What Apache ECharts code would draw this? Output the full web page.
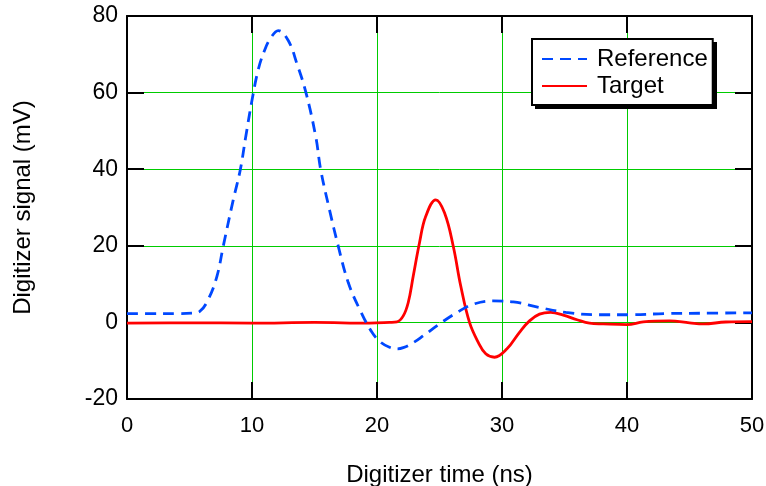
<!DOCTYPE html>
<html>
	<head>
		<meta charset="utf-8">
		<script type="text/javascript" src="https://cdn.jsdelivr.net/npm/echarts@6/dist/echarts.min.js"></script>
	</head>
	<body style="margin:0;background:#fff;">
		<div id="main" style="width:766px;height:486px;"></div>

		<script type="text/javascript">
			// 数据
			var refTime   = [0, 2, 4, 5.2, 5.8, 6.5, 7.2, 7.7, 8.5, 9.06, 9.5, 10, 10.5, 11, 11.5, 12.1, 12.9, 13.6, 14.3, 15.1, 15.5, 16.2, 16.9, 17.7, 18.6, 19.6, 20.3, 21.0, 21.6, 22.1, 22.9, 23.7, 25.0, 26.4, 27.7, 29.3, 30.9, 33.0, 35.1, 37.8, 40.2, 43, 46, 50];
			var refSignal = [2.3, 2.3, 2.3, 2.4, 2.8, 6, 12.1, 19.9, 32, 39.8, 48.5, 58, 66, 71, 74.3, 76.2, 73.6, 67.5, 60.2, 48.5, 39.8, 29.4, 19.9, 10.4, 3.5, -2.6, -5.2, -6.5, -6.9, -6.6, -5.3, -3.5, -0.4, 2.6, 4.75, 5.6, 5.35, 3.9, 2.6, 2.0, 2.0, 2.3, 2.4, 2.5];

			var tgtTime   = [0, 5, 10, 15, 19.4, 21, 21.6, 22.1, 22.5, 22.9, 23.4, 23.9, 24.7, 25.4, 26.1, 26.7, 27.4, 28.1, 28.7, 29.4, 30.4, 31.4, 32.2, 33.0, 33.9, 34.9, 36.0, 37.0, 38.1, 40.0, 41.3, 43.4, 45, 46.1, 47.9, 50];
			var tgtSignal = [-0.2, -0.1, -0.2, 0, -0.2, 0, 0.15, 1.7, 5.2, 12.1, 20.8, 27.7, 32.0, 28.6, 19.9, 9.5, 0, -5.2, -8.2, -9.1, -6.9, -2.6, 0.4, 2.15, 2.6, 1.9, 0.7, -0.2, -0.4, -0.6, 0.15, 0.4, -0.1, -0.4, 0.1, 0.2];

			function pairs(xs, ys) {
				return xs.map(function (x, i) { return [x, ys[i]]; });
			}

			var font = 'Liberation Sans, Arial, sans-serif';
			var myChart = echarts.init(document.getElementById('main'));

			var axisLine = { show: true, onZero: false, lineStyle: { color: '#000', width: 2 } };
			var axisTick = { show: true, inside: true, length: 17, lineStyle: { color: '#000', width: 2 } };
			var gridLine = { show: true, lineStyle: { color: '#00cc00', width: 1 } };

			var option = {
				animation: false,
				grid: { left: 127, right: 14, top: 16, bottom: 87, containLabel: false, outerBoundsMode: 'none' },
				// 图例阴影（实心黑色偏移）
				graphic: [{
					type: 'rect', left: 535, top: 42, z: 1,
					shape: { width: 182, height: 67 },
					style: { fill: '#000' }
				}],
				legend: {
					orient: 'vertical',
					left: 532,
					top: 39,
					z: 10,
					padding: [8, 5, 7, 9],
					itemGap: 3,
					itemWidth: 45,
					itemHeight: 20,
					backgroundColor: '#fff',
					borderColor: '#000',
					borderWidth: 2,
					borderRadius: 0,
					itemStyle: { opacity: 0 },
					textStyle: { fontFamily: font, fontSize: 24, color: '#000', padding: [0, 0, 0, 5] },
					data: ['Reference', 'Target']
				},
				xAxis: [{
					type: 'value', min: 0, max: 50, interval: 10,
					name: 'Digitizer time (ns)', nameLocation: 'middle', nameGap: 64,
					nameTextStyle: { fontFamily: font, fontSize: 24, color: '#000' },
					axisLine: axisLine, axisTick: axisTick, splitLine: gridLine,
					axisLabel: { fontFamily: font, fontSize: 22, color: '#000', margin: 16 }
				}, {
					type: 'value', position: 'top', min: 0, max: 50, interval: 10,
					axisLine: axisLine, axisTick: axisTick, splitLine: { show: false },
					axisLabel: { show: false }
				}],
				yAxis: [{
					type: 'value', min: -20, max: 80, interval: 20,
					name: 'Digitizer signal (mV)', nameLocation: 'middle', nameGap: 92,
					nameTextStyle: { fontFamily: font, fontSize: 24, color: '#000' },
					axisLine: axisLine, axisTick: axisTick, splitLine: gridLine,
					axisLabel: { fontFamily: font, fontSize: 23, color: '#000', margin: 9 }
				}, {
					type: 'value', position: 'right', min: -20, max: 80, interval: 20,
					axisLine: axisLine, axisTick: axisTick, splitLine: { show: false },
					axisLabel: { show: false }
				}],
				series: [{
					name: 'Reference',
					type: 'line',
					smooth: 0.4,
					symbol: 'none',
					data: pairs(refTime, refSignal),
					itemStyle: { color: '#0048ff' },
					lineStyle: { color: '#0048ff', width: 2.8, type: [11, 7] },
					z: 3
				}, {
					name: 'Target',
					type: 'line',
					smooth: 0.4,
					symbol: 'none',
					data: pairs(tgtTime, tgtSignal),
					itemStyle: { color: '#ff0000' },
					lineStyle: { color: '#ff0000', width: 2.8 },
					z: 2
				}]
			};

			myChart.setOption(option);
		</script>
	</body>
</html>
